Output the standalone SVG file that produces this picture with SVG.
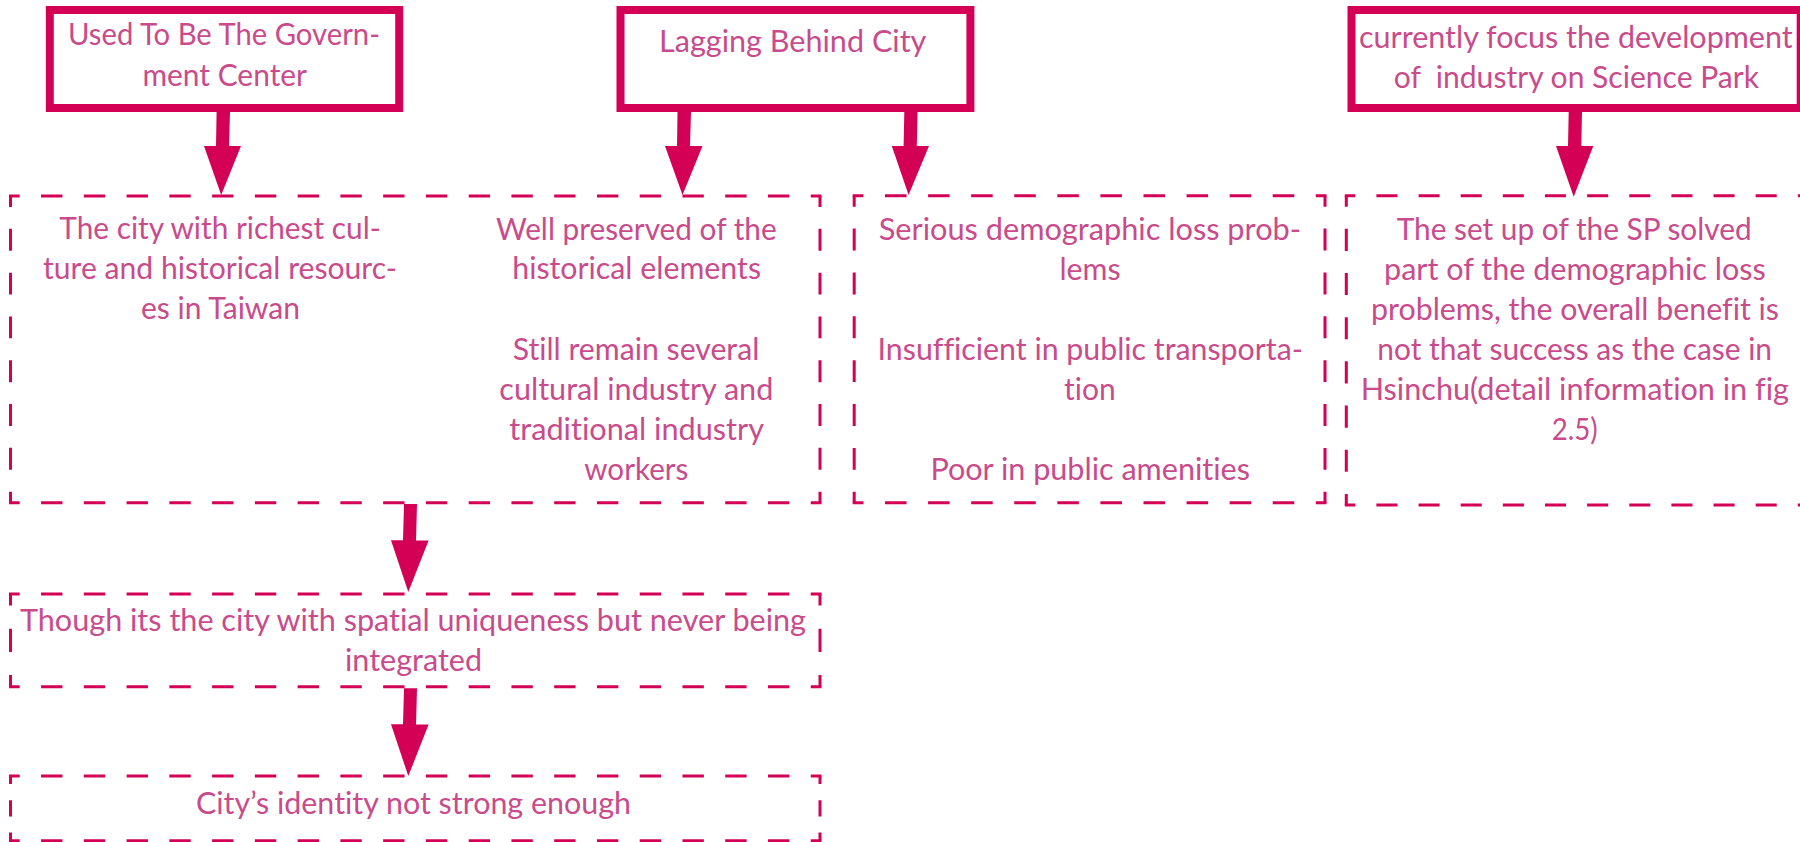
<svg xmlns="http://www.w3.org/2000/svg" width="1800" height="842" viewBox="0 0 1800 842">
<style>
.solid{fill:none;stroke:#d40055;stroke-width:8}
.dash{fill:none;stroke:#d40055;stroke-width:3}
.arrow{fill:#d40055;stroke:none}
text{font-family:"Lato","Open Sans","Liberation Sans",sans-serif;font-size:31px;fill:#c94b8b;white-space:pre;font-variant-ligatures:none}
.mid{text-anchor:middle}
</style>
<g id="connectors">
<polygon class="arrow" points="216.6,112 230,112 229,146 241,146 221.2,195 204,146 216,146"/>
<polygon class="arrow" points="677.5,112 691,112 690,146 702.5,146 682.5,195 665,146 677,146"/>
<polygon class="arrow" points="904.3,112 917.5,112 916.8,146 929,146 908.6,195 891.8,146 903.6,146"/>
<polygon class="arrow" points="1568.7,112 1582,112 1581.3,146 1593.3,146 1573.7,196.7 1556,146 1568,146"/>
<polygon class="arrow" points="404,504 417,504 416,540.6 428.6,540.6 408.3,592 391,540.3 403,540.3"/>
<polygon class="arrow" points="404,688.3 417,688.3 416,724.6 428.6,724.6 408.3,776 391,724.3 403,724.3"/>
</g>
<g id="node-government">
<rect class="solid" x="49.8" y="10" width="349.4" height="98"/>
<text x="68" y="45.3" textLength="312" lengthAdjust="spacingAndGlyphs">Used To Be The Govern-</text>
<text x="142.4" y="86" textLength="164.6" lengthAdjust="spacingAndGlyphs">ment Center</text>
</g>
<g id="node-lagging">
<rect class="solid" x="620.5" y="10" width="349.9" height="98"/>
<text x="659" y="52.3" textLength="267.4" lengthAdjust="spacingAndGlyphs">Lagging Behind City</text>
</g>
<g id="node-science-park">
<rect class="solid" x="1351.5" y="10" width="449.2" height="98"/>
<text class="mid" x="1575.85" y="48.3" textLength="433.7" lengthAdjust="spacingAndGlyphs">currently focus the development</text>
<text class="mid" x="1576.35" y="88.3" textLength="365.3" lengthAdjust="spacingAndGlyphs">of  industry on Science Park</text>
</g>
<g id="node-culture">
<path class="dash" stroke-dasharray="21.38" stroke-dashoffset="10.69" d="M9,196H821.5M9,502.7H821.5"/>
<path class="dash" stroke-dasharray="21.9" stroke-dashoffset="10.95" d="M10.5,196V502.7M820,196V502.7"/>
<text x="59.3" y="239.3" textLength="321.5" lengthAdjust="spacingAndGlyphs">The city with richest cul-</text>
<text x="43" y="279.3" textLength="354" lengthAdjust="spacingAndGlyphs">ture and historical resourc-</text>
<text x="141" y="319.3" textLength="159" lengthAdjust="spacingAndGlyphs">es in Taiwan</text>
<text x="496" y="240" textLength="280.7" lengthAdjust="spacingAndGlyphs">Well preserved of the</text>
<text x="512.3" y="279.3" textLength="248.7" lengthAdjust="spacingAndGlyphs">historical elements</text>
<text x="512.7" y="360" textLength="246.6" lengthAdjust="spacingAndGlyphs">Still remain several</text>
<text x="499.3" y="400" textLength="274" lengthAdjust="spacingAndGlyphs">cultural industry and</text>
<text x="509.3" y="440" textLength="254.7" lengthAdjust="spacingAndGlyphs">traditional industry</text>
<text x="584.3" y="480" textLength="104" lengthAdjust="spacingAndGlyphs">workers</text>
</g>
<g id="node-demographic">
<path class="dash" stroke-dasharray="21.54" stroke-dashoffset="10.77" d="M852.7,195.7H1326.5M852.7,502.7H1326.5"/>
<path class="dash" stroke-dasharray="21.93" stroke-dashoffset="10.96" d="M854.2,195.7V502.7M1325,195.7V502.7"/>
<text x="878.7" y="240" textLength="422.5" lengthAdjust="spacingAndGlyphs">Serious demographic loss prob-</text>
<text x="1059.4" y="280" textLength="61.2" lengthAdjust="spacingAndGlyphs">lems</text>
<text x="877.6" y="360" textLength="425.4" lengthAdjust="spacingAndGlyphs">Insufficient in public transporta-</text>
<text x="1064" y="400" textLength="51.6" lengthAdjust="spacingAndGlyphs">tion</text>
<text x="930.4" y="480" textLength="319.6" lengthAdjust="spacingAndGlyphs">Poor in public amenities</text>
</g>
<g id="node-sp">
<path class="dash" stroke-dasharray="21.07" stroke-dashoffset="10.53" d="M1344.8,195.7H1808.3M1344.8,505H1808.3"/>
<path class="dash" stroke-dasharray="22.09" stroke-dashoffset="11.05" d="M1346.3,195.7V505M1806.8,195.7V505"/>
<text class="mid" x="1574.2" y="240" textLength="355" lengthAdjust="spacingAndGlyphs">The set up of the SP solved</text>
<text class="mid" x="1574.85" y="280" textLength="381.7" lengthAdjust="spacingAndGlyphs">part of the demographic loss</text>
<text class="mid" x="1575" y="320" textLength="408" lengthAdjust="spacingAndGlyphs">problems, the overall benefit is</text>
<text class="mid" x="1574.65" y="360" textLength="394.7" lengthAdjust="spacingAndGlyphs">not that success as the case in</text>
<text class="mid" x="1574.85" y="400" textLength="428.3" lengthAdjust="spacingAndGlyphs">Hsinchu(detail information in fig</text>
<text class="mid" x="1574.7" y="440" textLength="46" lengthAdjust="spacingAndGlyphs">2.5)</text>
</g>
<g id="node-uniqueness">
<path class="dash" stroke-dasharray="21.38" stroke-dashoffset="10.69" d="M9,594H821.5M9,686.7H821.5"/>
<path class="dash" stroke-dasharray="23.17" stroke-dashoffset="11.59" d="M10.5,594V686.7M820,594V686.7"/>
<text x="20" y="630.7" textLength="786" lengthAdjust="spacingAndGlyphs">Though its the city with spatial uniqueness but never being</text>
<text x="345" y="670.7" textLength="137" lengthAdjust="spacingAndGlyphs">integrated</text>
</g>
<g id="node-identity">
<path class="dash" stroke-dasharray="21.38" stroke-dashoffset="10.69" d="M9,776H821.5M9,840.7H821.5"/>
<path class="dash" stroke-dasharray="16.17" stroke-dashoffset="8.09" d="M10.5,776V840.7M820,776V840.7"/>
<text x="196" y="814" textLength="435" lengthAdjust="spacingAndGlyphs">City’s identity not strong enough</text>
</g>
</svg>
